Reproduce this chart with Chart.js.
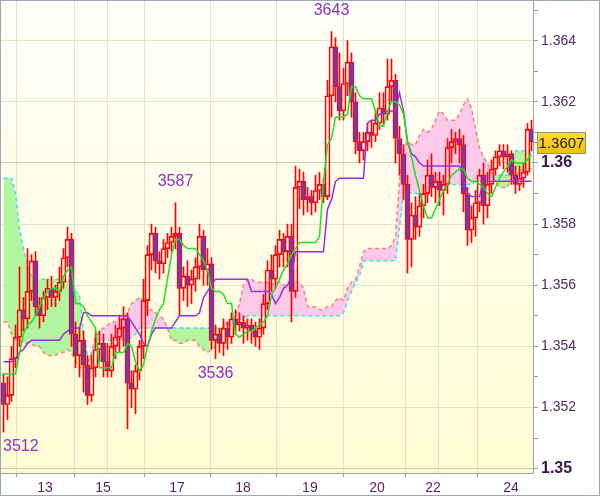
<!DOCTYPE html>
<html><head><meta charset="utf-8">
<script src="https://cdn.jsdelivr.net/npm/chart.js@4.4.0/dist/chart.umd.min.js"></script>
<style>html,body{margin:0;padding:0;background:#fff;overflow:hidden}canvas{display:block}</style>
</head><body>
<canvas id="c" width="600" height="497"></canvas>
<script>
const opens = [1.3528,1.3521,1.3524,1.3536,1.3543,1.3552,1.3549,1.3558,1.3568,1.3553,
1.3550,1.3556,1.3559,1.3556,1.3558,1.3561,1.3569,1.3575,1.3544,1.3537,
1.3542,1.3534,1.3524,1.3533,1.3539,1.3541,1.3535,1.3532,1.3540,1.3543,
1.3546,1.3549,1.3528,1.3526,1.3532,1.3540,1.3555,1.3570,1.3577,1.3568,
1.3567,1.3572,1.3574,1.3576,1.3577,1.3559,1.3563,1.3560,1.3562,1.3566,
1.3576,1.3565,1.3567,1.3542,1.3544,1.3541,1.3546,1.3543,1.3549,1.3547,
1.3548,1.3546,1.3547,1.3545,1.3543,1.3546,1.3554,1.3565,1.3562,1.3570,
1.3575,1.3571,1.3576,1.3558,1.3592,1.3594,1.3588,1.3589,1.3587,1.3591,
1.3593,1.3589,1.3622,1.3638,1.3625,1.3617,1.3626,1.3633,1.3620,1.3607,
1.3604,1.3607,1.3610,1.3609,1.3613,1.3618,1.3616,1.3625,1.3627,1.3608,
1.3603,1.3593,1.3575,1.3583,1.3579,1.3586,1.3590,1.3596,1.3592,1.3594,
1.3591,1.3593,1.3605,1.3607,1.3608,1.3606,1.3590,1.3578,1.3582,1.3587,
1.3596,1.3586,1.3593,1.3598,1.3602,1.3604,1.3602,1.3603,1.3596,1.3593,
1.3595,1.3597,1.3611];
const highs = [1.3531,1.3530,1.3540,1.3547,1.3566,1.3556,1.3572,1.3570,1.3571,1.3556,
1.3558,1.3562,1.3563,1.3560,1.3566,1.3572,1.3579,1.3577,1.3548,1.3546,
1.3545,1.3537,1.3537,1.3545,1.3545,1.3544,1.3541,1.3544,1.3547,1.3550,
1.3553,1.3551,1.3532,1.3534,1.3542,1.3562,1.3573,1.3580,1.3579,1.3571,
1.3575,1.3577,1.3579,1.3587,1.3579,1.3566,1.3568,1.3565,1.3569,1.3580,
1.3578,1.3572,1.3569,1.3547,1.3546,1.3549,1.3548,1.3551,1.3552,1.3551,
1.3550,1.3549,1.3549,1.3548,1.3549,1.3557,1.3568,1.3570,1.3573,1.3578,
1.3577,1.3580,1.3580,1.3599,1.3598,1.3597,1.3592,1.3591,1.3596,1.3597,
1.3595,1.3627,1.3643,1.3641,1.3636,1.3631,1.3640,1.3636,1.3623,1.3610,
1.3610,1.3613,1.3614,1.3617,1.3623,1.3623,1.3634,1.3634,1.3629,1.3612,
1.3606,1.3596,1.3587,1.3589,1.3590,1.3593,1.3601,1.3603,1.3597,1.3597,
1.3596,1.3608,1.3611,1.3610,1.3611,1.3609,1.3592,1.3586,1.3591,1.3598,
1.3600,1.3597,1.3601,1.3604,1.3606,1.3606,1.3606,1.3604,1.3599,1.3599,
1.3600,1.3613,1.3614];
const lows = [1.3512,1.3516,1.3522,1.3533,1.3540,1.3545,1.3546,1.3555,1.3550,1.3546,
1.3548,1.3552,1.3553,1.3553,1.3555,1.3559,1.3566,1.3540,1.3533,1.3530,
1.3525,1.3521,1.3522,1.3530,1.3535,1.3530,1.3530,1.3530,1.3536,1.3538,
1.3540,1.3513,1.3520,1.3518,1.3529,1.3536,1.3550,1.3565,1.3564,1.3562,
1.3564,1.3569,1.3571,1.3572,1.3550,1.3555,1.3553,1.3554,1.3558,1.3562,
1.3560,1.3560,1.3539,1.3536,1.3538,1.3537,1.3539,1.3541,1.3544,1.3545,
1.3541,1.3542,1.3541,1.3540,1.3539,1.3544,1.3552,1.3558,1.3559,1.3566,
1.3566,1.3566,1.3548,1.3556,1.3585,1.3583,1.3584,1.3583,1.3584,1.3588,
1.3587,1.3588,1.3615,1.3620,1.3614,1.3614,1.3622,1.3615,1.3603,1.3600,
1.3601,1.3604,1.3605,1.3607,1.3611,1.3612,1.3614,1.3620,1.3600,1.3596,
1.3588,1.3564,1.3566,1.3575,1.3576,1.3582,1.3587,1.3589,1.3587,1.3586,
1.3583,1.3590,1.3600,1.3603,1.3600,1.3584,1.3573,1.3574,1.3576,1.3584,
1.3580,1.3582,1.3590,1.3596,1.3599,1.3598,1.3597,1.3593,1.3590,1.3591,
1.3592,1.3596,1.3604];
const closes = [1.3521,1.3524,1.3536,1.3543,1.3552,1.3549,1.3558,1.3568,1.3553,1.3550,
1.3556,1.3559,1.3556,1.3558,1.3561,1.3569,1.3575,1.3544,1.3537,1.3542,
1.3534,1.3524,1.3533,1.3539,1.3541,1.3535,1.3532,1.3540,1.3543,1.3546,
1.3549,1.3528,1.3526,1.3532,1.3540,1.3555,1.3570,1.3577,1.3568,1.3567,
1.3572,1.3574,1.3576,1.3577,1.3559,1.3563,1.3560,1.3562,1.3566,1.3576,
1.3565,1.3567,1.3542,1.3544,1.3541,1.3546,1.3543,1.3549,1.3547,1.3548,
1.3546,1.3547,1.3545,1.3543,1.3546,1.3554,1.3565,1.3562,1.3570,1.3575,
1.3571,1.3576,1.3558,1.3592,1.3594,1.3588,1.3589,1.3587,1.3591,1.3593,
1.3589,1.3622,1.3638,1.3625,1.3617,1.3626,1.3633,1.3620,1.3607,1.3604,
1.3607,1.3610,1.3609,1.3613,1.3618,1.3616,1.3625,1.3627,1.3608,1.3603,
1.3593,1.3575,1.3583,1.3579,1.3586,1.3590,1.3596,1.3592,1.3594,1.3591,
1.3593,1.3605,1.3607,1.3608,1.3606,1.3590,1.3578,1.3582,1.3587,1.3596,
1.3586,1.3593,1.3598,1.3602,1.3604,1.3602,1.3603,1.3596,1.3593,1.3595,
1.3597,1.3611,1.3607];
const tenkan = [1.3531,1.3531,1.3531,1.3531,1.3538,1.3544,1.3547,1.3548,1.3550,1.3553,
1.3556,1.3558,1.3559,1.3559,1.3558,1.3563,1.3565,1.3566,1.3554,1.3554,
1.3553,1.3550,1.3548,1.3546,1.3533,1.3533,1.3533,1.3533,1.3538,1.3538,
1.3538,1.3541,1.3540,1.3535,1.3532,1.3534,1.3540,1.3545,1.3549,1.3552,
1.3554,1.3562,1.3570,1.3575,1.3575,1.3573,1.3572,1.3572,1.3572,1.3570,
1.3568,1.3565,1.3559,1.3558,1.3558,1.3557,1.3554,1.3554,1.3544,1.3543,
1.3544,1.3545,1.3545,1.3546,1.3547,1.3548,1.3550,1.3557,1.3559,1.3562,
1.3565,1.3567,1.3570,1.3572,1.3574,1.3574,1.3574,1.3574,1.3574,1.3576,
1.3594,1.3606,1.3608,1.3615,1.3615,1.3615,1.3616,1.3625,1.3625,1.3622,
1.3621,1.3621,1.3621,1.3617,1.3612,1.3612,1.3617,1.3620,1.3620,1.3619,
1.3616,1.3607,1.3602,1.3596,1.3591,1.3586,1.3582,1.3582,1.3585,1.3588,
1.3591,1.3593,1.3596,1.3597,1.3598,1.3598,1.3595,1.3594,1.3594,1.3593,
1.3592,1.3590,1.3589,1.3592,1.3595,1.3597,1.3599,1.3601,1.3600,1.3600,
1.3600,1.3601,1.3603];
const kijun = [1.3535,1.3535,1.3535,1.3536,1.3538,1.3539,1.3541,1.3542,1.3542,1.3542,
1.3542,1.3542,1.3542,1.3542,1.3542,1.3544,1.3545,1.3546,1.3546,1.3546,
1.3551,1.3551,1.3550,1.3550,1.3550,1.3550,1.3550,1.3550,1.3550,1.3550,
1.3550,1.3550,1.3548,1.3546,1.3544,1.3541,1.3540,1.3544,1.3546,1.3546,
1.3546,1.3546,1.3546,1.3548,1.3550,1.3550,1.3550,1.3550,1.3550,1.3551,
1.3556,1.3558,1.3560,1.3562,1.3562,1.3562,1.3562,1.3562,1.3562,1.3562,
1.3562,1.3562,1.3558,1.3558,1.3558,1.3558,1.3558,1.3557,1.3554,1.3556,
1.3559,1.3560,1.3563,1.3571,1.3571,1.3571,1.3571,1.3571,1.3571,1.3571,
1.3571,1.3585,1.3588,1.3594,1.3595,1.3595,1.3595,1.3595,1.3595,1.3595,
1.3595,1.3613,1.3614,1.3614,1.3616,1.3616,1.3617,1.3617,1.3617,1.3623,
1.3617,1.3607,1.3603,1.3602,1.3600,1.3599,1.3599,1.3599,1.3599,1.3599,
1.3599,1.3599,1.3599,1.3599,1.3599,1.3595,1.3590,1.3589,1.3589,1.3589,
1.3594,1.3594,1.3594,1.3594,1.3594,1.3594,1.3594,1.3594,1.3594,1.3594,
1.3594,1.3594,1.3594];
const spanA = [1.3595,1.3595,1.3595,1.3590,1.3578,1.3572,1.3567,1.3563,1.3562,1.3562,
1.3562,1.3562,1.3562,1.3562,1.3562,1.3562,1.3562,1.3562,1.3558,1.3557,
1.3544,1.3537,1.3537,1.3541,1.3542,1.3542,1.3542,1.3542,1.3542,1.3542,
1.3542,1.3542,1.3543,1.3544,1.3546,1.3546,1.3546,1.3546,1.3546,1.3546,
1.3546,1.3546,1.3546,1.3546,1.3546,1.3546,1.3546,1.3546,1.3546,1.3546,
1.3546,1.3546,1.3546,1.3546,1.3546,1.3546,1.3547,1.3547,1.3548,1.3549,
1.3549,1.3550,1.3550,1.3550,1.3550,1.3550,1.3550,1.3550,1.3550,1.3550,
1.3550,1.3550,1.3550,1.3550,1.3550,1.3550,1.3550,1.3550,1.3550,1.3550,
1.3550,1.3550,1.3550,1.3550,1.3550,1.3551,1.3555,1.3558,1.3561,1.3563,
1.3568,1.3568,1.3568,1.3568,1.3568,1.3568,1.3568,1.3568,1.3568,1.3579,
1.3590,1.3590,1.3590,1.3590,1.3590,1.3590,1.3590,1.3592,1.3592,1.3592,
1.3593,1.3593,1.3593,1.3593,1.3593,1.3593,1.3593,1.3593,1.3594,1.3594,
1.3594,1.3595,1.3595,1.3596,1.3596,1.3596,1.3596,1.3603,1.3604,1.3604,
1.3604,1.3604,1.3604];
const spanB = [1.3548,1.3548,1.3544,1.3542,1.3542,1.3541,1.3541,1.3541,1.3540,1.3540,
1.3538,1.3537,1.3537,1.3537,1.3538,1.3538,1.3539,1.3538,1.3535,1.3533,
1.3533,1.3534,1.3538,1.3543,1.3545,1.3546,1.3547,1.3548,1.3548,1.3549,
1.3549,1.3551,1.3554,1.3555,1.3556,1.3555,1.3552,1.3552,1.3551,1.3550,
1.3549,1.3546,1.3542,1.3542,1.3541,1.3541,1.3542,1.3542,1.3542,1.3540,
1.3539,1.3538,1.3539,1.3540,1.3544,1.3547,1.3548,1.3549,1.3550,1.3554,
1.3560,1.3562,1.3562,1.3561,1.3561,1.3561,1.3561,1.3560,1.3561,1.3561,
1.3560,1.3560,1.3561,1.3561,1.3561,1.3559,1.3553,1.3553,1.3553,1.3552,
1.3552,1.3553,1.3553,1.3555,1.3556,1.3555,1.3559,1.3561,1.3562,1.3566,
1.3571,1.3572,1.3572,1.3572,1.3572,1.3572,1.3572,1.3573,1.3576,1.3594,
1.3604,1.3607,1.3606,1.3606,1.3609,1.3611,1.3610,1.3611,1.3614,1.3617,
1.3616,1.3614,1.3614,1.3614,1.3616,1.3619,1.3621,1.3618,1.3611,1.3605,
1.3602,1.3600,1.3597,1.3594,1.3592,1.3592,1.3592,1.3595,1.3596,1.3597,
1.3598,1.3598,1.3598];
const dayTickPos = [10.4, 24.9, 26.9, 43.4, 59.9, 76.6, 93.4, 107.4, 110.1, 126.9];
const dayTickLabels = ['13', '15', '', '17', '18', '19', '20', '22', '', '24'];
const priceTicks = [1.350,1.351,1.352,1.353,1.354,1.355,1.356,1.357,1.358,1.359,1.360,1.361,1.362,1.363,1.364,1.365];
const extremeIdx = [82, 43, 53, 0];
const extremeVal = [1.3643, 1.3587, 1.3536, 1.3512];
const extremeText = ['3643', '3587', '3536', '3512'];

const FAM = '"Liberation Sans", Arial, sans-serif';
const N = closes.length;
const idx = closes.map((_, i) => i);
const pts = arr => arr.map((v, i) => ({x: i, y: v}));
const bodies = idx.map(i => ({x: i, y: [opens[i], closes[i]]}));
const wickUp = idx.map(i => ({x: i, y: [Math.max(opens[i], closes[i]), highs[i]]}));
const wickDn = idx.map(i => ({x: i, y: [lows[i], Math.min(opens[i], closes[i])]}));

const bgPlugin = {
  id: 'bg',
  beforeDraw(chart) {
    const {ctx, chartArea: a} = chart;
    const g = ctx.createLinearGradient(0, a.top, 0, a.bottom);
    g.addColorStop(0, '#fffffa');
    g.addColorStop(1, '#fffbd3');
    ctx.save();
    ctx.fillStyle = g;
    ctx.fillRect(a.left, a.top, a.right - a.left, a.bottom - a.top);
    ctx.restore();
  }
};
const extPlugin = {
  id: 'ext',
  afterDatasetsDraw(chart) {
    const {ctx, chartArea: a, scales: {x, y}} = chart;
    ctx.save();
    ctx.font = '16px ' + FAM;
    ctx.fillStyle = '#8e2fd0';
    ctx.textAlign = 'center';
    ctx.textBaseline = 'middle';
    extremeIdx.forEach((i, k) => {
      const isHigh = extremeVal[k] >= highs[i];
      const w = ctx.measureText(extremeText[k]).width;
      let px = x.getPixelForValue(i);
      px = Math.min(Math.max(px, a.left + w / 2 + 2), a.right - w / 2 - 2);
      const py = y.getPixelForValue(extremeVal[k]) + (isHigh ? -21 : 15);
      ctx.fillText(extremeText[k], px, py);
    });
    ctx.restore();
  }
};
const pricePlugin = {
  id: 'price',
  afterDraw(chart) {
    const {ctx, chartArea: a, scales: {y}} = chart;
    const v = closes[N - 1];
    const py = Math.round(y.getPixelForValue(v)) + 0.5;
    ctx.save();
    ctx.strokeStyle = '#8a8a8a';
    ctx.lineWidth = 1;
    ctx.beginPath(); ctx.moveTo(a.right, py); ctx.lineTo(a.right + 5, py); ctx.stroke();
    const x0 = a.right + 4.5, w = 48, h = 21, y0 = Math.round(py - h / 2) + 0.5;
    const g = ctx.createLinearGradient(0, y0, 0, y0 + h);
    g.addColorStop(0, '#ffdc3a');
    g.addColorStop(1, '#f3bf00');
    ctx.fillStyle = g;
    ctx.fillRect(x0, y0, w, h);
    ctx.strokeStyle = '#8c8c8c';
    ctx.strokeRect(x0, y0, w, h);
    ctx.fillStyle = '#1a1a1a';
    ctx.font = '15px ' + FAM;
    ctx.textAlign = 'center';
    ctx.textBaseline = 'middle';
    ctx.fillText(v.toFixed(4), x0 + w / 2, py + 1);
    ctx.strokeStyle = '#9aa8b5';
    ctx.strokeRect(0.5, 0.5, 599, 495);
    ctx.restore();
  }
};

const isEven = v => Math.round(v * 1000) % 2 === 0;
const isRound = v => Math.round(v * 1000) % 10 === 0;

new Chart(document.getElementById('c'), {
  type: 'bar',
  data: {
    datasets: [
      {type: 'line', data: pts(spanA), borderColor: '#3fe0ee', borderWidth: 1.5, borderDash: [4, 3],
       pointRadius: 0, tension: 0, fill: false, order: 9},
      {type: 'line', data: pts(spanB), borderColor: '#f2837f', borderWidth: 1.5, borderDash: [4, 3],
       pointRadius: 0, tension: 0, fill: {target: 0, above: 'rgb(252,202,232)', below: 'rgb(178,246,160)'}, order: 10},
      {type: 'bar', data: wickUp, backgroundColor: '#ff0000', borderWidth: 0, barThickness: 1, grouped: false, order: 5},
      {type: 'bar', data: wickDn, backgroundColor: '#ff0000', borderWidth: 0, barThickness: 1, grouped: false, order: 5},
      {type: 'bar', data: bodies,
       backgroundColor: ctx => (closes[ctx.dataIndex] < opens[ctx.dataIndex] ? '#7b37a8' : 'rgba(0,0,0,0)'),
       borderColor: '#ff0000', borderWidth: 1, borderSkipped: false, barThickness: 5, grouped: false, order: 4},
      {type: 'line', data: pts(kijun), borderColor: '#9b2fd4', borderWidth: 1.5, pointRadius: 0, tension: 0, fill: false, order: 2},
      {type: 'line', data: pts(tenkan), borderColor: '#1fe01f', borderWidth: 1.5, pointRadius: 0, tension: 0, fill: false, order: 1}
    ]
  },
  options: {
    responsive: false,
    animation: false,
    devicePixelRatio: 1,
    events: [],
    layout: {padding: {top: 1, left: 1, right: 0, bottom: 0}, autoPadding: false},
    plugins: {legend: {display: false}, tooltip: {enabled: false}},
    scales: {
      x: {
        type: 'linear', min: -0.625, max: 132.375, offset: false,
        afterBuildTicks: s => { s.ticks = dayTickPos.map(v => ({value: v})); },
        afterFit: s => { s.height = 24; s.paddingLeft = 0; s.paddingRight = 0; },
        ticks: {autoSkip: false, maxRotation: 0, minRotation: 0, padding: 3, color: '#5b1f66',
                font: {family: FAM, size: 14}, callback: (v, i) => dayTickLabels[i]},
        grid: {color: '#e2e2c4', lineWidth: 1, tickLength: 4,
               tickColor: ctx => (dayTickLabels[ctx.index] ? '#9a9a9a' : 'rgba(0,0,0,0)')},
        border: {color: '#a0a4a8', width: 1}
      },
      y: {
        type: 'linear', position: 'right', min: 1.3498593, max: 1.3652986,
        afterBuildTicks: s => { s.ticks = priceTicks.map(v => ({value: v})); },
        afterFit: s => { s.width = 67; s.paddingTop = 0; s.paddingBottom = 0; },
        ticks: {
          autoSkip: false, padding: 3,
          callback: v => (isEven(v) ? String(Math.round(v * 1000) / 1000) : ''),
          color: ctx => (ctx.tick && isRound(ctx.tick.value) ? '#3a1650' : '#4d2a66'),
          font: ctx => (ctx.tick && isRound(ctx.tick.value)
            ? {family: FAM, size: 16, weight: 'bold'} : {family: FAM, size: 14})
        },
        grid: {
          lineWidth: 1, tickLength: 5, tickColor: '#9a9a9a',
          color: ctx => {
            if (!ctx.tick) return '#e2e2c4';
            if (!isEven(ctx.tick.value)) return 'rgba(0,0,0,0)';
            return isRound(ctx.tick.value) ? '#cdcda8' : '#e2e2c4';
          }
        },
        border: {color: '#a0a4a8', width: 1}
      }
    }
  },
  plugins: [bgPlugin, extPlugin, pricePlugin]
});
</script>
</body></html>
